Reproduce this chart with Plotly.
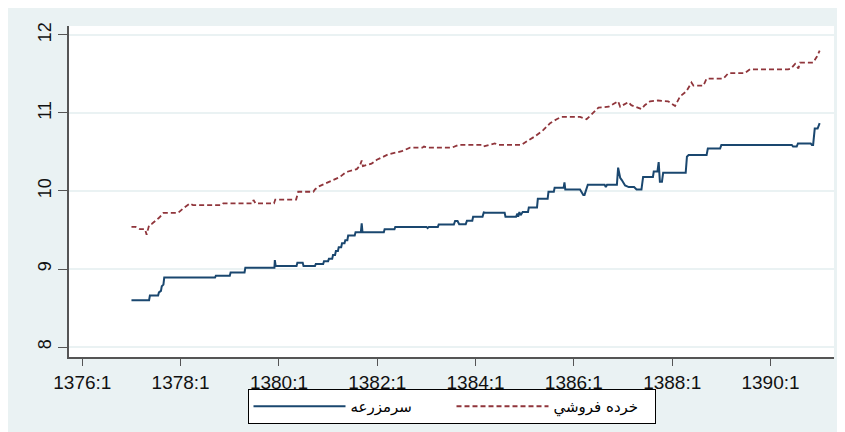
import plotly.graph_objects as go

# time index: months since 1376:1
farm_t = [12, 16.3, 16.5, 18.5, 18.7, 19.2, 19.4, 19.8, 20.0, 32.4, 32.6, 36.0, 36.2, 39.6, 39.8,
          46.9, 47.0, 47.2, 52.3, 52.5, 53.8, 54.0, 56.8, 57.0, 58.8, 59.0, 60.0, 60.2, 61.0, 61.2,
          61.7, 61.9, 62.4, 62.6, 63.2, 63.4, 64.0, 64.2, 64.7, 64.9, 66.5, 66.7, 68.0, 68.2, 68.4,
          73.6, 73.8, 76.2, 76.4, 84.0, 84.3, 84.6, 86.8, 87.0, 90.7, 91.0, 91.6, 92.0, 93.6, 93.9,
          95.2, 95.4, 97.7, 98.0, 98.4, 103.1, 103.3, 105.9, 106.2, 106.4, 106.7, 107.0, 107.5,
          108.8, 109.0, 111.0, 111.2, 113.6, 113.8, 115.1, 115.3, 117.5, 117.7, 117.9, 121.5,
          122.3, 122.6, 123.4, 127.5, 127.8, 128.1, 130.5, 130.8, 131.3, 131.7, 132.5, 133.4,
          134.7, 135.3, 136.5, 136.9, 139.3, 139.5, 140.4, 140.7, 141.0, 141.5, 141.8, 147.3,
          147.6, 148.0, 152.4, 152.7, 155.7, 156.0, 173.2, 173.5, 174.4, 174.7, 177.8, 178.1,
          178.4, 178.8, 179.5, 180.0]
farm_v = [8.60, 8.60, 8.66, 8.66, 8.70, 8.72, 8.78, 8.80, 8.89, 8.89, 8.915, 8.915, 8.955, 8.955, 9.015,
          9.015, 9.115, 9.04, 9.04, 9.08, 9.08, 9.04, 9.04, 9.065, 9.065, 9.10, 9.10, 9.13, 9.13, 9.18,
          9.18, 9.23, 9.23, 9.28, 9.28, 9.33, 9.33, 9.37, 9.37, 9.43, 9.43, 9.47, 9.47, 9.585, 9.47,
          9.47, 9.51, 9.51, 9.54, 9.54, 9.525, 9.54, 9.54, 9.57, 9.57, 9.615, 9.615, 9.575, 9.575, 9.62,
          9.62, 9.67, 9.67, 9.725, 9.72, 9.72, 9.67, 9.67, 9.71, 9.67, 9.73, 9.69, 9.73,
          9.73, 9.79, 9.79, 9.90, 9.90, 9.99, 9.99, 10.04, 10.04, 10.11, 10.02, 10.02,
          9.95, 9.95, 10.08, 10.08, 10.05, 10.08, 10.08, 10.30, 10.17, 10.14, 10.07, 10.05,
          10.05, 10.02, 10.02, 10.18, 10.18, 10.25, 10.25, 10.37, 10.12, 10.12, 10.235, 10.235,
          10.44, 10.46, 10.46, 10.545, 10.545, 10.59, 10.59, 10.57, 10.57, 10.61, 10.61, 10.59,
          10.59, 10.80, 10.80, 10.87]

retail_t = [12, 13.0, 14.1, 15.3, 15.7, 16.3, 17.0, 17.7, 18.8, 19.8, 23.4, 24.7, 26.3, 27.0, 34.0,
            34.4, 41.5, 41.8, 42.3, 46.8, 47.1, 52.2, 52.7, 56.4, 56.8, 57.6, 59.6, 61.3, 62.9, 64.1,
            64.9, 67.0, 67.8, 68.2, 68.5, 70.6, 71.9, 73.1, 74.7, 78.0, 80.0, 83.0, 83.4, 84.5, 90.2,
            91.8, 97.5, 97.9, 100.7, 101.6, 107.2, 108.9, 110.5, 112.5, 114.2, 115.8, 117.0, 121.5,
            123.1, 124.3, 126.0, 128.5, 129.2, 130.8, 131.3, 133.3, 134.0, 136.1, 136.5, 137.3,
            138.6, 140.5, 143.0, 144.7, 145.9, 147.5, 148.7, 149.2, 151.6, 152.4, 156.5, 157.7,
            161.7, 163.0, 172.3, 173.0, 174.0, 174.8, 175.2, 178.4, 179.3, 180.0]
retail_v = [9.54, 9.54, 9.51, 9.51, 9.44, 9.56, 9.58, 9.61, 9.66, 9.72, 9.72, 9.78, 9.84, 9.82, 9.82,
            9.84, 9.84, 9.885, 9.84, 9.84, 9.89, 9.89, 9.99, 9.99, 10.02, 10.055, 10.105, 10.14, 10.18, 10.23,
            10.25, 10.28, 10.33, 10.39, 10.32, 10.35, 10.40, 10.43, 10.47, 10.51, 10.555, 10.555, 10.57, 10.555, 10.555,
            10.59, 10.59, 10.57, 10.61, 10.59, 10.59, 10.65, 10.70, 10.78, 10.87, 10.92, 10.95, 10.95,
            10.92, 10.98, 11.07, 11.08, 11.10, 11.15, 11.08, 11.14, 11.10, 11.06, 11.05, 11.10,
            11.15, 11.16, 11.15, 11.09, 11.21, 11.28, 11.39, 11.35, 11.35, 11.44, 11.44, 11.51,
            11.51, 11.56, 11.56, 11.57, 11.63, 11.57, 11.645, 11.645, 11.72, 11.80]

x_tick_vals = [0, 24, 48, 72, 96, 120, 144, 168]
x_tick_text = ["1376:1", "1378:1", "1380:1", "1382:1", "1384:1", "1386:1", "1388:1", "1390:1"]
y_tick_vals = [8, 9, 10, 11, 12]

farm_name = "سرمزرعه"
retail_name = "خرده فروشي"

BG = "#EAF2F3"
# the page body adds an 8px white margin at top/left
W, H = 837, 424
ML, MR, MT, MB = 61, 11, 18, 75
PW, PH = W - ML - MR, H - MT - MB

fig = go.Figure()
fig.add_trace(go.Scatter(x=farm_t, y=farm_v, mode="lines", name=farm_name,
                         line=dict(color="#1A476F", width=2)))
fig.add_trace(go.Scatter(x=retail_t, y=retail_v, mode="lines", name=retail_name,
                         line=dict(color="#90353B", width=1.8, dash="5px,3px")))


def px_y(p):
    return 1 - (p - MT) / PH


fig.update_layout(
    width=W, height=H,
    margin=dict(l=ML, r=MR, t=MT, b=MB, autoexpand=False),
    paper_bgcolor=BG, plot_bgcolor="white",
    font=dict(family="Liberation Sans, Arial, sans-serif", color="black"),
    showlegend=True,
    legend=dict(orientation="h", x=0.5, xanchor="center", y=px_y(381), yanchor="top",
                bgcolor="white", bordercolor="black", borderwidth=1,
                font=dict(size=15, family="DejaVu Sans, Noto Sans, sans-serif"),
                itemwidth=92, entrywidth=96),
    xaxis=dict(range=[-3.25, 183.5], tickvals=x_tick_vals, ticktext=x_tick_text, automargin=False,
               showgrid=False, zeroline=False, showline=True, linecolor="#555555", linewidth=1.5,
               ticks="outside", ticklen=7, tickwidth=1, tickcolor="#555555",
               tickfont=dict(size=19, color="#111111")),
    yaxis=dict(range=[7.872, 12.115], tickvals=y_tick_vals, tickangle=-90, automargin=False,
               showgrid=True, gridcolor=BG, gridwidth=1.5, zeroline=False,
               showline=True, linecolor="#555555", linewidth=1.5,
               ticks="outside", ticklen=9, tickwidth=1, tickcolor="#555555",
               tickfont=dict(size=18, color="#111111")),
)

fig.write_html("out.html")
